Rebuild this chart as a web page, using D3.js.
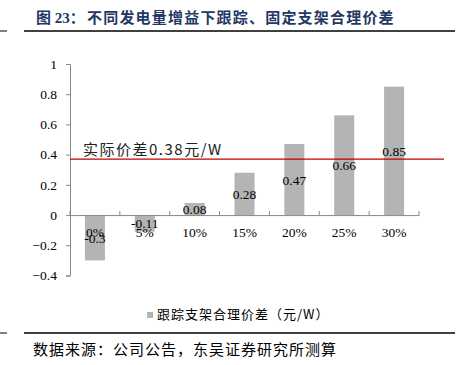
<!DOCTYPE html>
<html>
<head>
<meta charset="utf-8">
<script src="https://cdn.jsdelivr.net/npm/d3@7"></script>
<style>
  body { margin: 0; background: #fff; }
  svg { display: block; }
</style>
</head>
<body>
<script>
// data
var categories = ["0%", "5%", "10%", "15%", "20%", "25%", "30%"];
var values = [-0.3, -0.11, 0.08, 0.28, 0.47, 0.66, 0.85];
var yTicks = [-0.4, -0.2, 0, 0.2, 0.4, 0.6, 0.8, 1];
var refValue = 0.37;
var refLabel = "实际价差0.38元/W";
var seriesName = "跟踪支架合理价差（元/W）";
var titleHead = "图 23：";
var titleBody = "不同发电量增益下跟踪、固定支架合理价差";
var source = "数据来源：公司公告，东吴证券研究所测算";

var w = 463, h = 365;
var serif = "'Liberation Serif', 'Times New Roman', serif";
var cjk = "'Noto Sans CJK SC', sans-serif";

var svg = d3.select("body").append("svg").attr("width", w).attr("height", h);

// title + rules
svg.append("text").attr("x", 36).attr("y", 23)
  .attr("font-family", serif + ", " + cjk).attr("font-weight", "bold")
  .attr("font-size", 15).attr("fill", "#1f3864").text(titleHead);
svg.append("text").attr("x", 87).attr("y", 23)
  .attr("font-family", cjk).attr("font-weight", "bold")
  .attr("font-size", 15).attr("letter-spacing", 1.2).attr("fill", "#1f3864").text(titleBody);
[31, 333].forEach(function(y){
  svg.append("line").attr("x1", 0).attr("x2", 7).attr("y1", y).attr("y2", y)
    .attr("stroke", "#000").attr("stroke-width", 1);
  svg.append("line").attr("x1", 24).attr("x2", 455).attr("y1", y).attr("y2", y)
    .attr("stroke", "#000").attr("stroke-width", 1.3);
});

var x = d3.scaleBand().domain(categories).range([70, 419]);
var y = d3.scaleLinear().domain([-0.4, 1]).range([275.5, 64]);

// y axis
var yAxis = svg.append("g").attr("transform", "translate(70,0)")
  .call(d3.axisLeft(y).tickValues(yTicks).tickSize(4).tickPadding(9)
    .tickFormat(function(d){ return d3.format("")(+d.toFixed(1)); }));
yAxis.select(".domain").attr("stroke", "#888");
yAxis.selectAll(".tick line").attr("stroke", "#888");
yAxis.selectAll("text").attr("font-family", serif).attr("font-size", 13.5).attr("fill", "#000");

// bars
var barW = 20;
svg.append("g").selectAll("rect").data(values).enter().append("rect")
  .attr("x", function(d, i){ return x(categories[i]) + x.bandwidth()/2 - barW/2; })
  .attr("y", function(d){ return y(Math.max(0, d)); })
  .attr("width", barW)
  .attr("height", function(d){ return Math.abs(y(d) - y(0)); })
  .attr("fill", "#b4b4b4");

// x axis at zero
var xAxis = svg.append("g").attr("transform", "translate(0," + y(0) + ")")
  .call(d3.axisBottom(x).tickSize(0).tickPadding(12));
xAxis.select(".domain").attr("stroke", "#888");
xAxis.selectAll("text").attr("font-family", serif).attr("font-size", 13.5).attr("fill", "#000");
svg.append("g").selectAll("line").data(d3.range(categories.length + 1)).enter().append("line")
  .attr("x1", function(i){ return 70 + i * x.step(); })
  .attr("x2", function(i){ return 70 + i * x.step(); })
  .attr("y1", y(0)).attr("y2", y(0) - 4)
  .attr("stroke", "#888");

// data labels in the middle of the bars
svg.append("g").selectAll("text").data(values).enter().append("text")
  .attr("x", function(d, i){ return x(categories[i]) + x.bandwidth()/2; })
  .attr("y", function(d){ return (y(d) + y(0)) / 2 + 5; })
  .attr("text-anchor", "middle")
  .attr("font-family", serif).attr("font-size", 13.5).attr("fill", "#000")
  .text(function(d){ return d; });

// reference line
svg.append("line").attr("x1", 70).attr("x2", 444)
  .attr("y1", y(refValue)).attr("y2", y(refValue))
  .attr("stroke", "#c00000").attr("stroke-width", 1.3);
svg.append("text").attr("x", 83).attr("y", y(refValue) - 4)
  .attr("font-family", cjk).attr("font-size", 15).attr("letter-spacing", 1.5).attr("fill", "#222")
  .text(refLabel);

// legend
svg.append("rect").attr("x", 147).attr("y", 312).attr("width", 6).attr("height", 6).attr("fill", "#b4b4b4");
svg.append("text").attr("x", 157).attr("y", 319)
  .attr("font-family", cjk).attr("font-size", 13).attr("letter-spacing", 1).attr("fill", "#000").text(seriesName);

// source
svg.append("text").attr("x", 33).attr("y", 355)
  .attr("font-family", cjk).attr("font-size", 15).attr("letter-spacing", 1).attr("fill", "#000").text(source);
</script>
</body>
</html>
